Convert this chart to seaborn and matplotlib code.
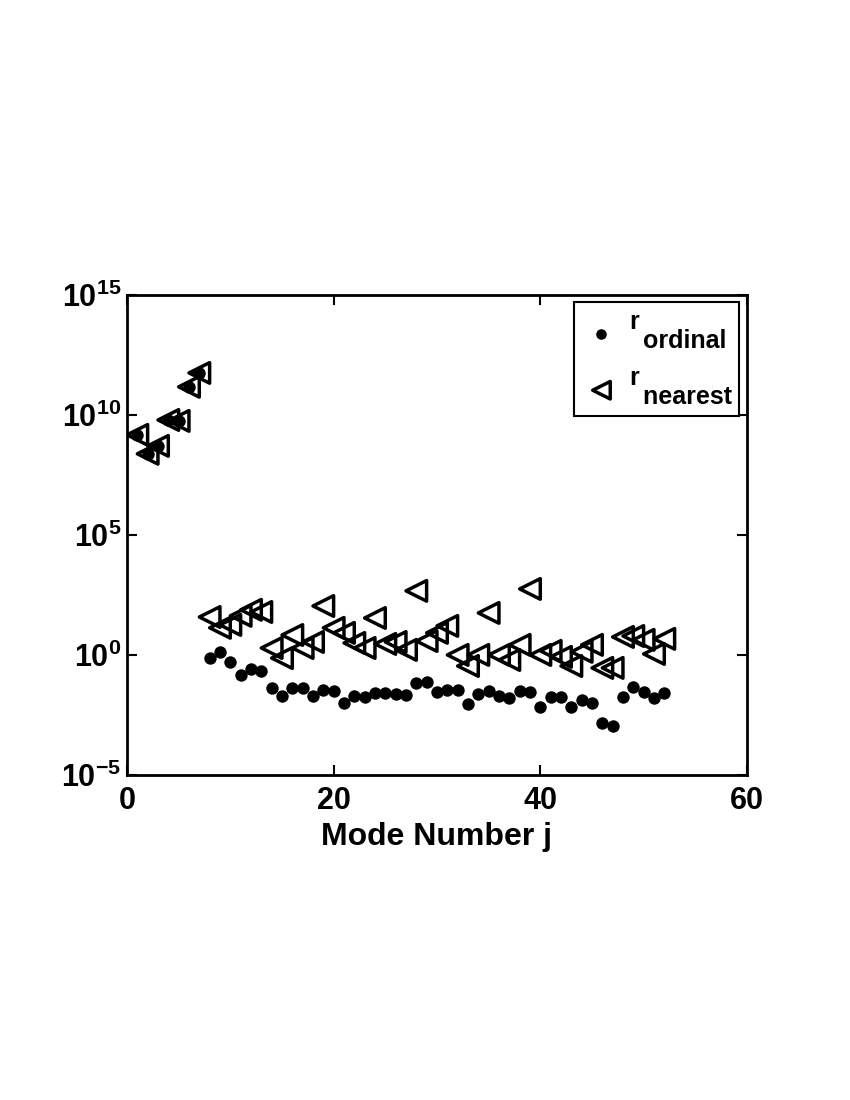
import numpy as np
import pandas as pd
import seaborn as sns
import matplotlib
matplotlib.use("Agg")
import matplotlib.pyplot as plt

# mode numbers
modes = list(range(1, 53))

# log10 of r_ordinal
log_r_ordinal = [9.17, 8.38, 8.71, 9.79, 9.75, 11.17, 11.75,
                 -0.13, 0.13, -0.29, -0.83, -0.58, -0.67, -1.38, -1.71, -1.38, -1.38,
                 -1.71, -1.46, -1.50, -2.00, -1.71, -1.75, -1.58, -1.58, -1.63, -1.67,
                 -1.17, -1.13, -1.54, -1.46, -1.46, -2.04, -1.63, -1.50, -1.71, -1.79,
                 -1.50, -1.54, -2.17, -1.75, -1.75, -2.17, -1.88, -2.00, -2.83, -2.96,
                 -1.75, -1.33, -1.54, -1.79, -1.58]

# log10 of r_nearest
log_r_nearest = [9.17, 8.38, 8.71, 9.79, 9.75, 11.17, 11.75,
                 1.58, 1.13, 1.25, 1.63, 1.88, 1.79, 0.29, -0.13, 0.83, 0.29,
                 0.54, 2.04, 1.13, 0.92, 0.50, 0.29, 1.54, 0.46, 0.54, 0.21,
                 2.67, 0.58, 0.92, 1.21, 0.00, -0.46, 0.00, 1.75, 0.00, -0.21,
                 0.42, 2.75, 0.00, 0.17, -0.08, -0.46, 0.13, 0.42, -0.54, -0.54,
                 0.75, 0.79, 0.63, 0.04, 0.67]

y_ticks = [1e-5, 1e0, 1e5, 1e10, 1e15]
y_tick_labels = ["$10^{-5}$", "$10^{0}$", "$10^{5}$", "$10^{10}$", "$10^{15}$"]
x_ticks = [0, 20, 40, 60]

df = pd.DataFrame({
    "j": modes,
    "ordinal": np.power(10.0, log_r_ordinal),
    "nearest": np.power(10.0, log_r_nearest),
})

sns.set_style("ticks")
plt.rcParams["font.family"] = ["Liberation Sans", "DejaVu Sans"]
plt.rcParams["font.weight"] = "bold"
plt.rcParams["mathtext.fontset"] = "custom"
plt.rcParams["mathtext.rm"] = "Liberation Sans:bold"
plt.rcParams["mathtext.it"] = "Liberation Sans:bold"
plt.rcParams["mathtext.bf"] = "Liberation Sans:bold"
for k in ["text.color", "axes.labelcolor", "xtick.color", "ytick.color", "axes.edgecolor"]:
    plt.rcParams[k] = "black"

fig = plt.figure(figsize=(8.5, 11), dpi=100)
ax = fig.add_axes([0.1494, 0.2955, 0.7294, 0.4364])

# subscripts are as large as the letter in the original, so the label is two lines
sns.scatterplot(data=df, x="j", y="nearest", marker="<", s=220,
                facecolor="none", edgecolor="black", linewidth=2.5,
                label="r\n  nearest", ax=ax, zorder=2)
sns.scatterplot(data=df, x="j", y="ordinal", marker="o", s=80,
                color="black", edgecolor="black", linewidth=0,
                label="r\n  ordinal", ax=ax, zorder=3)

ax.set_yscale("log")
ax.set_xlim(0, 60)
ax.set_ylim(1e-5, 1e15)
ax.set_xticks(x_ticks)
ax.set_xticklabels([str(t) for t in x_ticks])
ax.set_yticks(y_ticks)
ax.set_yticklabels(y_tick_labels)
ax.minorticks_off()
ax.tick_params(direction="in", length=7, width=1.5, top=True, right=True,
               labelsize=22)
ax.tick_params(axis="x", pad=8)
ax.tick_params(axis="y", pad=4)
for sp in ax.spines.values():
    sp.set_linewidth(2)

ax.set_xlabel("Mode Number j", fontsize=23, fontweight="bold", labelpad=4)
ax.set_ylabel("")

handles, labels = ax.get_legend_handles_labels()
leg = ax.legend(handles[::-1], labels[::-1], loc="upper right", fontsize=18,
                frameon=True, fancybox=False, borderaxespad=0.3,
                handletextpad=0.3, handlelength=1.6, labelspacing=0.5,
                borderpad=0.3, markerscale=0.85)
for t in leg.get_texts():
    t.set_linespacing(0.75)
leg.get_frame().set_edgecolor("black")
leg.get_frame().set_linewidth(1.5)
leg.get_frame().set_alpha(1)

fig.savefig("out.png", dpi=100)
